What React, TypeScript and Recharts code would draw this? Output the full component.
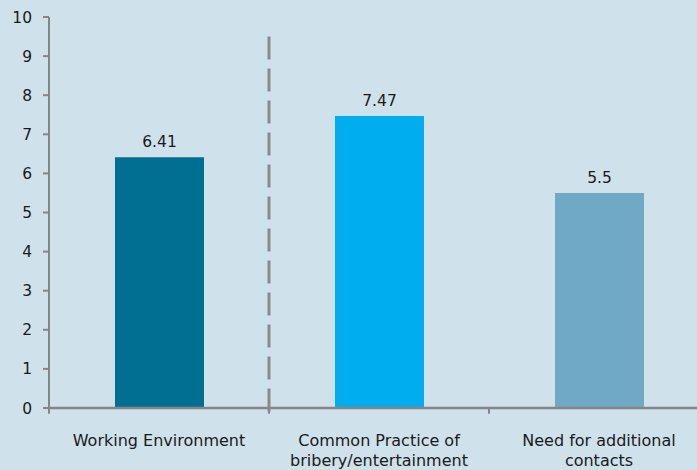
import React from 'react';
import { BarChart, Bar, XAxis, YAxis, Cell, LabelList, ReferenceLine } from 'recharts';

const categories = ['Working Environment', 'Common Practice of\nbribery/entertainment', 'Need for additional\ncontacts'];
const values = [6.41, 7.47, 5.5];
const colors = ['#006F91', '#00AEEF', '#70A9C6'];
const yTicks = [0, 1, 2, 3, 4, 5, 6, 7, 8, 9, 10];
const dividerTop = 9.5;
const dividerBottom = -0.27;
const tickBottom = -0.15;

const data = categories.map((name, i) => ({ name, value: values[i] }));

const boundaries: { cat: string; pos: 'start' | 'end' }[] = [
  { cat: categories[0], pos: 'start' },
  { cat: categories[1], pos: 'start' },
  { cat: categories[2], pos: 'start' },
  { cat: categories[2], pos: 'end' },
];

const FONT = '"DejaVu Sans", sans-serif';
const AXIS = '#868686';

const XTick = (props: any) => {
  const { x, y, payload } = props;
  const lines = String(payload.value).split('\n');
  return (
    <text x={x} y={y} textAnchor="middle" fill="#1a1a1a" fontSize={16} fontFamily={FONT}>
      {lines.map((l: string, i: number) => (
        <tspan key={i} x={x} dy={i === 0 ? 38 : 20}>{l}</tspan>
      ))}
    </text>
  );
};

export default function App() {
  return (
    <div style={{ position: 'absolute', left: 0, top: 0, width: 697, height: 470, overflow: 'hidden', background: '#CFE1EA' }}>
      <BarChart width={720} height={470} data={data} margin={{ top: 17, right: 11, left: 0, bottom: 0 }}>
        <XAxis
          dataKey="name"
          height={62}
          tickSize={0}
          tickMargin={0}
          tickLine={false}
          axisLine={{ stroke: AXIS, strokeWidth: 2.5 }}
          tick={<XTick />}
          interval={0}
        />
        <YAxis
          domain={[0, 10]}
          ticks={yTicks}
          width={49}
          tickSize={6}
          tickMargin={11}
          axisLine={{ stroke: AXIS, strokeWidth: 2 }}
          tickLine={{ stroke: AXIS, strokeWidth: 2 }}
          tick={{ fill: '#1a1a1a', fontSize: 15.5, fontFamily: FONT }}
          interval={0}
        />
        {boundaries.map((b, i) => (
          <ReferenceLine
            key={i}
            segment={[{ x: b.cat, y: 0 }, { x: b.cat, y: tickBottom }]}
            position={b.pos}
            stroke={AXIS}
            strokeWidth={2}
            ifOverflow="visible"
          />
        ))}
        <ReferenceLine
          segment={[{ x: categories[0], y: dividerTop }, { x: categories[0], y: dividerBottom }]}
          position="end"
          stroke="#8A8A8A"
          strokeWidth={3}
          strokeDasharray="23 9"
          ifOverflow="visible"
        />
        <Bar dataKey="value" barSize={89} isAnimationActive={false}>
          {data.map((d, i) => (
            <Cell key={i} fill={colors[i]} />
          ))}
          <LabelList dataKey="value" position="top" offset={10} fill="#1a1a1a" fontSize={15.5} fontFamily={FONT} />
        </Bar>
      </BarChart>
    </div>
  );
}
